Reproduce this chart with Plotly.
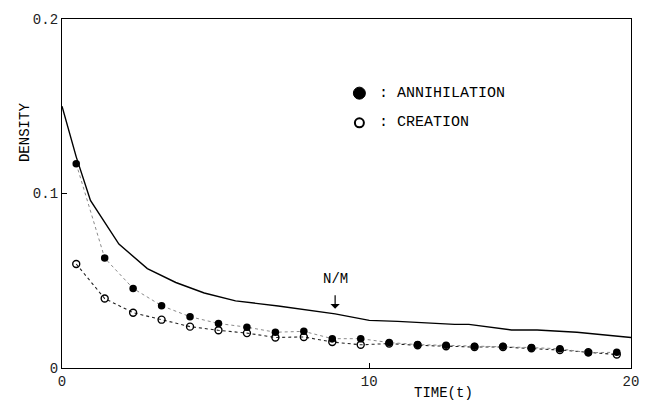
import plotly.graph_objects as go

# ---- data ----
t_points = [0.5, 1.5, 2.5, 3.5, 4.5, 5.5, 6.5, 7.5, 8.5, 9.5,
            10.5, 11.5, 12.5, 13.5, 14.5, 15.5, 16.5, 17.5, 18.5, 19.5]
annihilation = [0.117, 0.063, 0.0456, 0.0357, 0.0294, 0.0255, 0.0234, 0.0205, 0.021, 0.0168,
                0.0168, 0.0146, 0.0134, 0.013, 0.0125, 0.0125, 0.0117, 0.011, 0.0088, 0.009]
creation = [0.0596, 0.0398, 0.0317, 0.0277, 0.0237, 0.0216, 0.020, 0.0175, 0.0178, 0.0149,
            0.0133, 0.014, 0.013, 0.0125, 0.012, 0.012, 0.0113, 0.0103, 0.009, 0.0077]
t_line = [0, 0.5, 1.0, 2.0, 3.0, 4.0, 5.0, 6.1, 7.6, 9.6, 10.8, 11.8, 13.8, 14.3, 15.8, 16.7, 18.1, 20]
nm_line = [0.150, 0.121, 0.096, 0.071, 0.057, 0.049, 0.043, 0.0385, 0.0355, 0.031, 0.0273, 0.0267,
           0.025, 0.025, 0.0218, 0.0218, 0.0205, 0.0175]
x_tickvals = [0, 10.8, 20]
x_ticktext = ["0", "10", "20"]
y_tickvals = [0, 0.1, 0.2]
y_ticktext = ["0", "0.1", "0.2"]
nm_t = 9.6
nm_arrow_tip = 0.034
nm_arrow_tail = 0.0425
nm_label_y = 0.051

FONT = "Liberation Mono"

fig = go.Figure()
fig.add_trace(go.Scatter(x=t_line, y=nm_line, mode="lines",
                         line=dict(color="black", width=1.4), showlegend=False))
fig.add_trace(go.Scatter(x=t_points, y=creation, mode="lines+markers",
                         line=dict(color="#222", width=1.1, dash="dot"),
                         marker=dict(symbol="circle-open", size=7, color="black",
                                     line=dict(width=1.4, color="black")),
                         showlegend=False))
fig.add_trace(go.Scatter(x=t_points, y=annihilation, mode="lines+markers",
                         line=dict(color="#8a8a8a", width=1.0, dash="dot"),
                         marker=dict(symbol="circle", size=7.5, color="black"),
                         showlegend=False))

axis_common = dict(showline=True, linecolor="black", linewidth=1.3, mirror=True,
                   showgrid=False, zeroline=False, ticks="inside", ticklen=5,
                   tickcolor="black", tickfont=dict(family=FONT, size=14, color="#222"))
fig.update_xaxes(range=[0, 20], tickvals=x_tickvals, ticktext=x_ticktext, **axis_common)
fig.update_yaxes(range=[0, 0.2], tickvals=y_tickvals, ticktext=y_ticktext, **axis_common)

# N/M arrow
fig.add_annotation(x=nm_t, y=nm_arrow_tip, ax=nm_t, ay=nm_arrow_tail, xref="x", yref="y",
                   axref="x", ayref="y", text="", showarrow=True, arrowhead=1,
                   arrowsize=1.3, arrowwidth=1.2, arrowcolor="black")
fig.add_annotation(x=nm_t, y=nm_label_y, xref="x", yref="y", text="N/M", showarrow=False,
                   font=dict(family=FONT, size=14, color="black"))

# legend (symbols + text)
fig.add_shape(type="circle", xref="paper", yref="paper", xsizemode="pixel", ysizemode="pixel",
              xanchor=(362 - 62) / 574, yanchor=(368 - 90) / 353, x0=-6, x1=6, y0=-6, y1=6,
              fillcolor="black", line=dict(color="black", width=1))
fig.add_shape(type="circle", xref="paper", yref="paper", xsizemode="pixel", ysizemode="pixel",
              xanchor=(362 - 62) / 574, yanchor=(368 - 120) / 353, x0=-4.5, x1=4.5, y0=-4.5, y1=4.5,
              fillcolor="white", line=dict(color="black", width=2))
fig.add_annotation(x=(380 - 62) / 574, y=(368 - 90) / 353, xref="paper", yref="paper",
                   text=": ANNIHILATION", showarrow=False, xanchor="left", yanchor="middle",
                   font=dict(family=FONT, size=15, color="black"))
fig.add_annotation(x=(380 - 62) / 574, y=(368 - 120) / 353, xref="paper", yref="paper",
                   text=": CREATION", showarrow=False, xanchor="left", yanchor="middle",
                   font=dict(family=FONT, size=15, color="black"))

# axis titles
fig.add_annotation(x=(447 - 62) / 574, y=(368 - 393) / 353, xref="paper", yref="paper",
                   text="TIME(t)", showarrow=False, xanchor="center", yanchor="middle",
                   font=dict(family=FONT, size=14, color="black"))
fig.add_annotation(x=(24 - 62) / 574, y=(368 - 130) / 353, xref="paper", yref="paper",
                   text="DENSITY", showarrow=False, textangle=-90, xanchor="center",
                   yanchor="middle", font=dict(family=FONT, size=14, color="black"))

fig.update_layout(width=651, height=404, margin=dict(l=62, r=15, t=15, b=36),
                  paper_bgcolor="white", plot_bgcolor="white")
fig.write_html("out.html", config={"displayModeBar": False},
               post_script="document.body.style.margin='0';document.body.style.overflow='hidden';")
